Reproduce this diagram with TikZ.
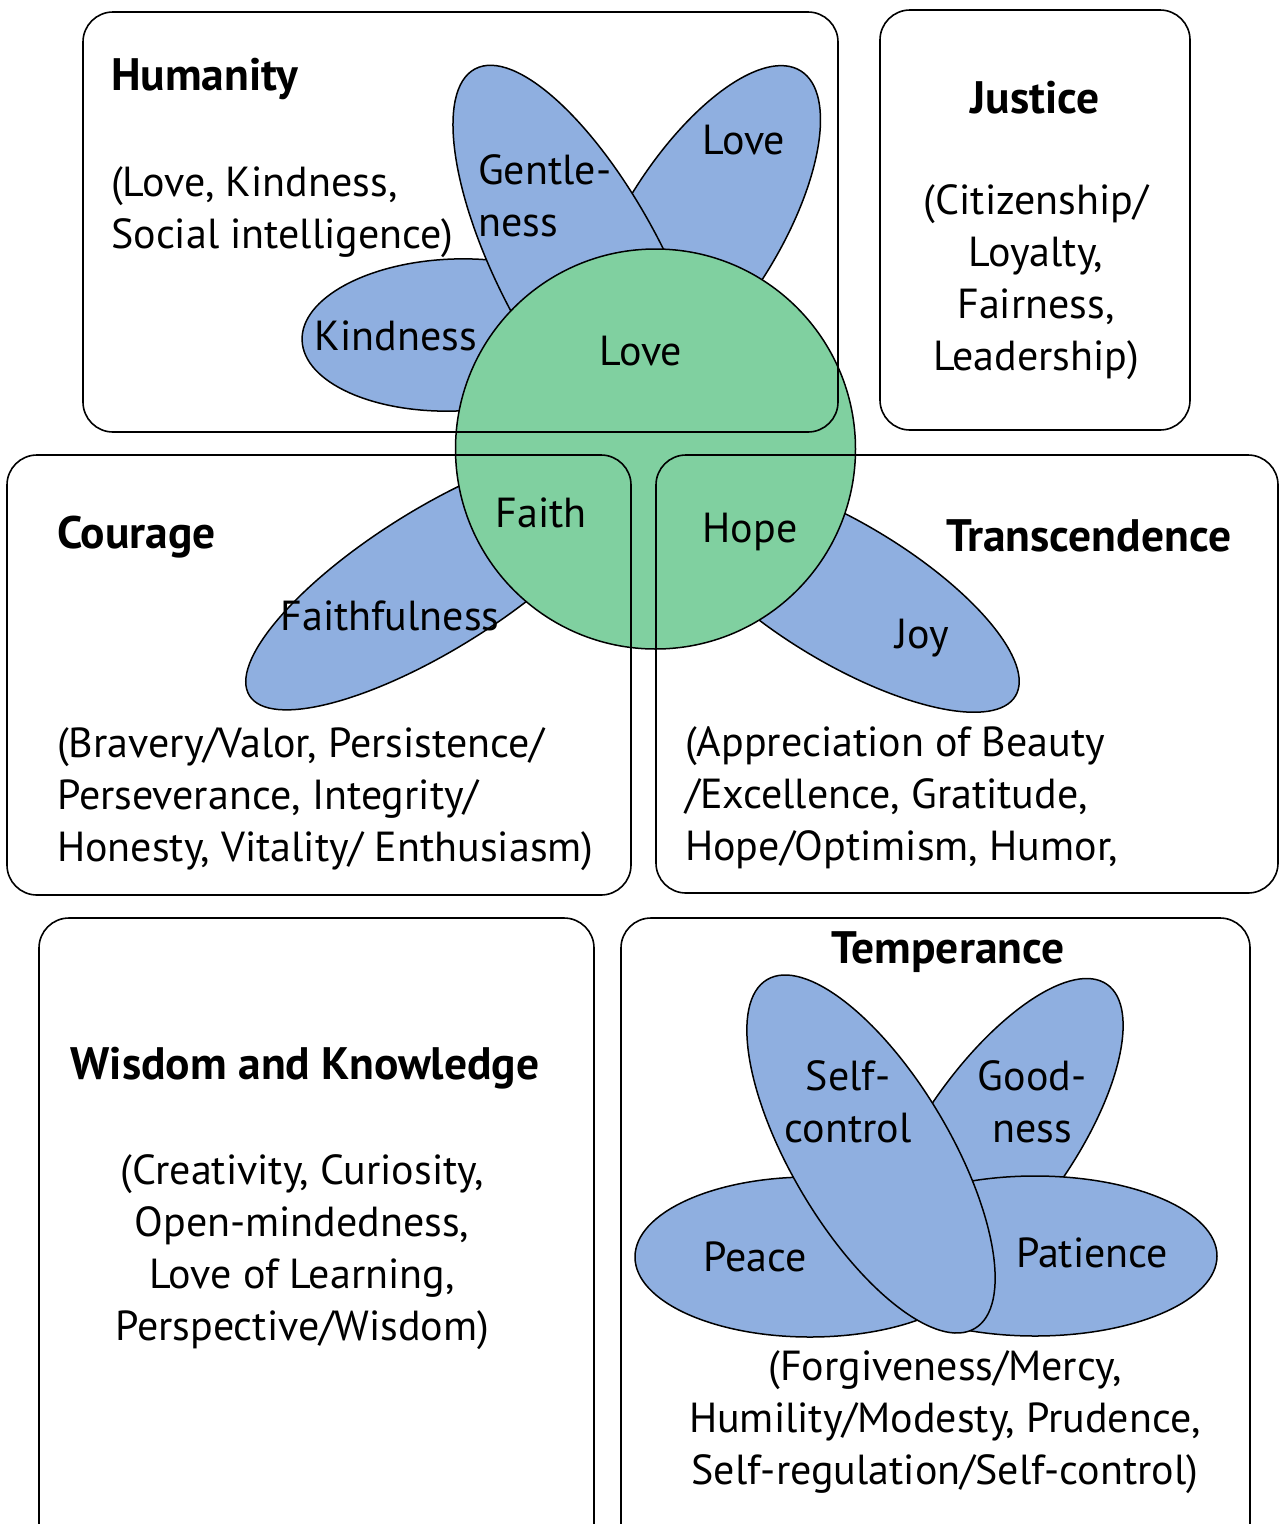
\documentclass[tikz,border=0pt]{standalone}
\usepackage{fontspec}
\setmainfont{PT Sans}
\definecolor{petalblue}{RGB}{143,175,224}
\definecolor{coregreen}{RGB}{128,208,160}
\begin{document}
\begin{tikzpicture}[x=1pt,y=1pt,
  petal/.style={fill=petalblue, draw=black, line width=1.5pt},
  core/.style={circle, fill=coregreen, draw=black, line width=1.5pt, minimum size=400pt, inner sep=0pt},
  panel/.style={draw=black, line width=1.6pt, rounded corners=30pt},
  lbl/.style={inner sep=0pt, font=\fontsize{42}{52}\selectfont},
  ttl/.style={inner sep=0pt, font=\fontsize{45.5}{52}\selectfont\bfseries}]
\clip (0,0) rectangle (1279,-1524);
\fill[white] (0,0) rectangle (1279,-1524);

% central flower: petals behind the round core
\draw[petal, rotate around={2:(455,-335)}] (455,-335) ellipse [x radius=153pt, y radius=76pt];
\draw[petal, rotate around={58:(700,-232)}] (700,-232) ellipse [x radius=190pt, y radius=78pt];
\draw[petal, rotate around={118:(583,-272)}] (583,-272) ellipse [x radius=230pt, y radius=82pt];
\draw[petal, rotate around={32:(436,-579)}] (436,-579) ellipse [x radius=220pt, y radius=70pt];
\draw[petal, rotate around={-31:(844,-593)}] (844,-593) ellipse [x radius=200pt, y radius=70pt];
\node[core] (heart) at (655.5,-449) {};

% temperance flower
\draw[petal, rotate around={55:(998,-1140)}] (998,-1140) ellipse [x radius=190pt, y radius=75pt];
\draw[petal] (1035,-1256) ellipse [x radius=182pt, y radius=80pt];
\draw[petal] (810,-1257) ellipse [x radius=175pt, y radius=80pt];
\draw[petal, rotate around={120.8:(871,-1154)}] (871,-1154) ellipse [x radius=203pt, y radius=79pt];

% panels
\draw[panel] (83,-12) rectangle (838,-432);
\draw[panel] (880,-10) rectangle (1190,-430);
\draw[panel] (7,-455) rectangle (631,-895);
\draw[panel] (656,-455) rectangle (1278,-893);
\draw[panel] (39,-918) rectangle (594,-1560);
\draw[panel] (621,-918) rectangle (1250,-1560);

% panel texts
\node[ttl, anchor=west] (humT) at (111,-79) {Humanity};
\node[lbl, anchor=west, align=left] (humD) at (111,-212) {(Love, Kindness,\\Social intelligence)};
\node[ttl] (jusT) at (1035,-98) {Justice};
\node[lbl, align=center] (jusD) at (1036,-282) {(Citizenship/\\Loyalty,\\Fairness,\\Leadership)};
\node[ttl, anchor=west] (couT) at (57,-537) {Courage};
\node[lbl, anchor=west, align=left] (couD) at (57,-799) {(Bravery/Valor, Persistence/\\Perseverance, Integrity/\\Honesty, Vitality/ Enthusiasm)};
\node[ttl, anchor=west] (traT) at (946,-536) {Transcendence};
\node[lbl, anchor=west, align=left] (traD) at (685,-798) {(Appreciation of Beauty\\/Excellence, Gratitude,\\Hope/Optimism, Humor,};
\node[ttl] (wisT) at (305,-1068) {Wisdom and Knowledge};
\node[lbl, align=center] (wisD) at (302,-1252) {(Creativity, Curiosity,\\Open-mindedness,\\Love of Learning,\\Perspective/Wisdom)};
\node[ttl] (temT) at (948,-952) {Temperance};
\node[lbl, align=center] (temD) at (945,-1422) {(Forgiveness/Mercy,\\Humility/Modesty, Prudence,\\Self-regulation/Self-control)};

% petal texts
\node[lbl, anchor=west, align=left] (gentle) at (478,-196) {Gentle-\\ness};
\node[lbl] (lovePetal) at (744,-140) {Love};
\node[lbl] (kind) at (396,-336) {Kindness};
\node[lbl] (loveCore) at (641,-351) {Love};
\node[lbl] (faith) at (541,-513) {Faith};
\node[lbl] (hope) at (750,-532) {Hope};
\node[lbl] (faithful) at (390,-616) {Faithfulness};
\node[lbl] (joy) at (922,-638) {Joy};
\node[lbl, align=center] (selfc) at (848,-1102) {Self-\\control};
\node[lbl, align=center] (good) at (1032,-1102) {Good-\\ness};
\node[lbl] (peace) at (755,-1257) {Peace};
\node[lbl] (patience) at (1092,-1253) {Patience};
\end{tikzpicture}
\end{document}
